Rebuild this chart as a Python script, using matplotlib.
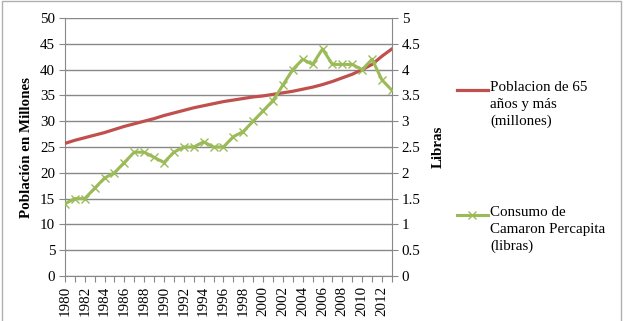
import numpy as np
import matplotlib.pyplot as plt
from matplotlib.lines import Line2D
from matplotlib.patches import Rectangle

years = list(range(1980, 2014))
poblacion = [25.7, 26.3, 26.8, 27.3, 27.8, 28.4, 29.0, 29.5, 30.0, 30.5,
             31.1, 31.6, 32.1, 32.6, 33.0, 33.4, 33.8, 34.1, 34.4, 34.7,
             34.9, 35.2, 35.5, 35.8, 36.2, 36.6, 37.1, 37.7, 38.4, 39.1,
             40.0, 41.0, 42.6, 44.0]
camaron = [1.4, 1.5, 1.5, 1.7, 1.9, 2.0, 2.2, 2.4, 2.4, 2.3,
           2.2, 2.4, 2.5, 2.5, 2.6, 2.5, 2.5, 2.7, 2.8, 3.0,
           3.2, 3.4, 3.7, 4.0, 4.2, 4.1, 4.4, 4.1, 4.1, 4.1,
           4.0, 4.2, 3.8, 3.6]

label_pob = "Poblacion de 65\naños y más\n(millones)"
label_cam = "Consumo de\nCamaron Percapita\n(libras)"

red = "#C0504D"
green = "#9BBB59"
grid_c = "#888888"

plt.rcParams['font.family'] = ['Liberation Serif', 'DejaVu Serif']
fs = 10.8

fig = plt.figure(figsize=(6.24, 3.21), dpi=100)
fig.add_artist(Rectangle((0.004, -0.1), 0.991, 1.097, transform=fig.transFigure,
                         fill=False, edgecolor="#b0b0b0", linewidth=1))

ax = fig.add_axes([0.104, 0.140, 0.524, 0.804])
ax2 = ax.twinx()

ax.plot(years, poblacion, color=red, linewidth=2.3, zorder=3)
ax2.plot(years, camaron, color=green, linewidth=2.2, marker="x",
         markersize=6, markeredgewidth=1, zorder=3)

ax.set_xlim(1980, 2013)
ax.set_ylim(0, 50)
ax.set_yticks(np.arange(0, 51, 5))
ax2.set_ylim(0, 5)
ax2.set_yticks(np.arange(0, 5.01, 0.5))
ax2.set_yticklabels(["0", "0.5", "1", "1.5", "2", "2.5", "3", "3.5", "4", "4.5", "5"])

ax.set_xticks(years)
ax.set_xticklabels([str(y) if (y - 1980) % 2 == 0 else "" for y in years],
                   rotation=90, fontsize=fs)
ax.grid(axis="y", color=grid_c, linewidth=1)
ax.set_axisbelow(True)

for a in (ax, ax2):
    for s in a.spines.values():
        s.set_visible(False)
    a.tick_params(length=4, color=grid_c, labelsize=fs, pad=3)
ax.spines["left"].set_visible(True)
ax.spines["left"].set_color(grid_c)
ax.spines["bottom"].set_visible(True)
ax.spines["bottom"].set_color(grid_c)
ax2.spines["right"].set_visible(True)
ax2.spines["right"].set_color(grid_c)

ax.set_ylabel("Población en Millones", fontsize=fs, fontweight="bold", labelpad=5)
ax2.set_ylabel("Libras", fontsize=fs, fontweight="bold", labelpad=8)

# legend drawn by hand so handles line up with the first text line
fig.add_artist(Line2D([457 / 624, 488 / 624], [1 - 90 / 321] * 2,
                      transform=fig.transFigure, color=red, linewidth=2.3))
fig.add_artist(Line2D([457 / 624, 488 / 624], [1 - 215 / 321] * 2,
                      transform=fig.transFigure, color=green, linewidth=2.2))
fig.add_artist(Line2D([472 / 624], [1 - 215 / 321], transform=fig.transFigure,
                      color=green, marker="x", markersize=6, markeredgewidth=1))
fig.text(490 / 624, 1 - 81 / 321, label_pob, fontsize=fs, va="top", ha="left",
         linespacing=1.38)
fig.text(490 / 624, 1 - 206 / 321, label_cam, fontsize=fs, va="top", ha="left",
         linespacing=1.38)

plt.savefig("out.png", dpi=100)
plt.close()
